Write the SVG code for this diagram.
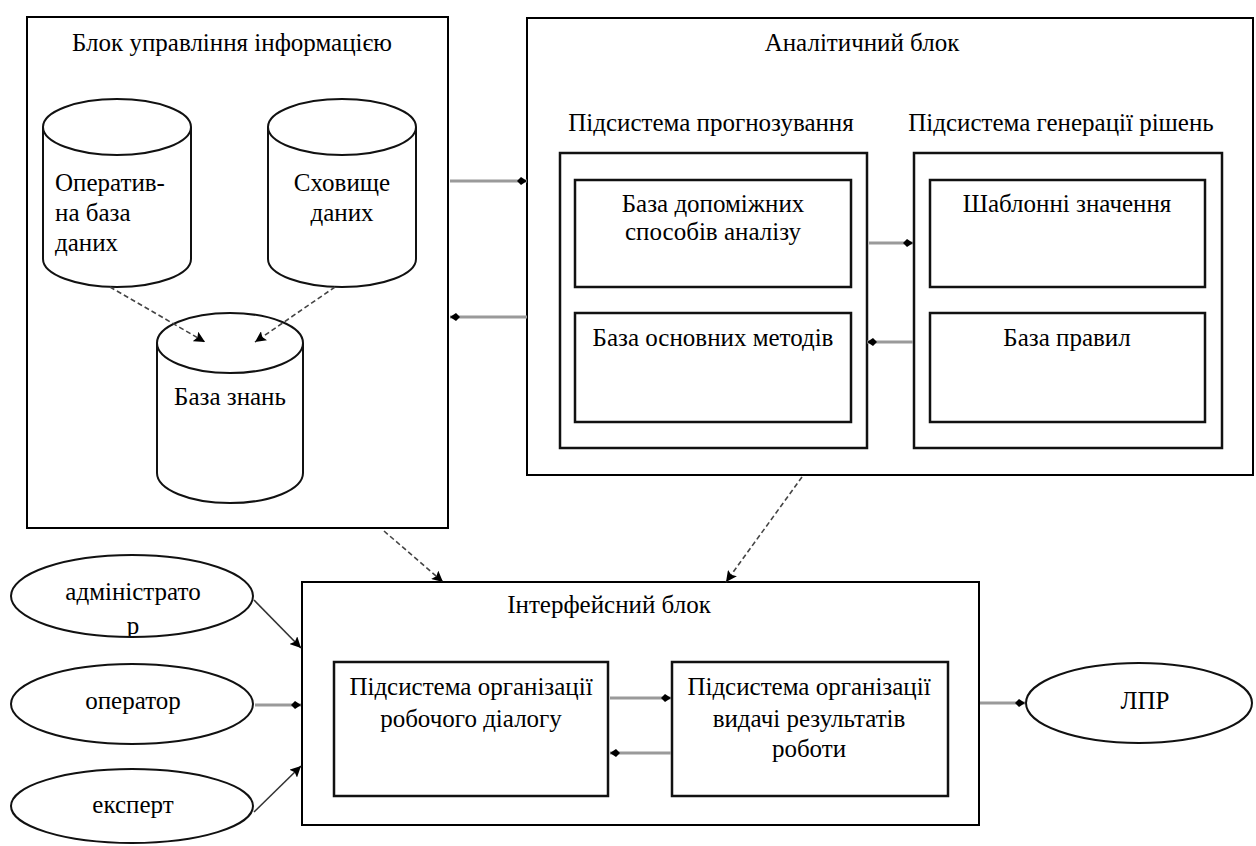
<svg xmlns="http://www.w3.org/2000/svg" width="1256" height="846" viewBox="0 0 1256 846" font-family="Liberation Serif, serif" font-size="25">
<defs>
<marker id="kite" viewBox="0 0 10 10" refX="10" refY="5" markerWidth="10" markerHeight="10" markerUnits="userSpaceOnUse" orient="auto">
<path d="M0,5 L4,1 L10,5 L4,9 z" fill="#000"/>
</marker>
<marker id="tri" viewBox="0 0 10 10" refX="10" refY="5" markerWidth="11" markerHeight="11" markerUnits="userSpaceOnUse" orient="auto">
<path d="M0,0 L10,5 L0,10 L2,5 z" fill="#000"/>
</marker>
<clipPath id="admClip"><ellipse cx="132" cy="596" rx="120" ry="40"/></clipPath>
</defs>

<g id="nodes" font-family="Liberation Serif, serif" font-size="25">
<g id="info-block">
<rect x="27" y="17" width="421" height="511" fill="#fff" stroke="#000" stroke-width="2"/>
<text x="232" y="51" text-anchor="middle">Блок управління інформацією</text>
</g>

<g id="operative-db">
<path d="M43,127 L43,259 A74,28 0 0 0 191,259 L191,127" fill="#fff" stroke="#111" stroke-width="2"/>
<ellipse cx="117" cy="127" rx="74" ry="28" fill="#fff" stroke="#111" stroke-width="2"/>
<text x="55" y="191">Оператив-</text>
<text x="55" y="221">на база</text>
<text x="55" y="251">даних</text>
</g>

<g id="data-warehouse">
<path d="M268,127 L268,259 A74,28 0 0 0 416,259 L416,127" fill="#fff" stroke="#111" stroke-width="2"/>
<ellipse cx="342" cy="127" rx="74" ry="28" fill="#fff" stroke="#111" stroke-width="2"/>
<text x="342" y="191" text-anchor="middle">Сховище</text>
<text x="342" y="221" text-anchor="middle">даних</text>
</g>

<g id="knowledge-base">
<path d="M157,343 L157,473 A73,30 0 0 0 303,473 L303,343" fill="#fff" stroke="#111" stroke-width="2"/>
<ellipse cx="230" cy="343" rx="73" ry="30" fill="#fff" stroke="#111" stroke-width="2"/>
<text x="230" y="405" text-anchor="middle">База знань</text>
</g>

<g id="analytic-block">
<rect x="527" y="18" width="726" height="457" fill="#fff" stroke="#000" stroke-width="2"/>
<text x="862" y="51" text-anchor="middle">Аналітичний блок</text>
</g>

<g id="forecast-subsystem">
<text x="711" y="131" text-anchor="middle">Підсистема прогнозування</text>
<rect x="560" y="153" width="307" height="295" fill="#fff" stroke="#111" stroke-width="2.5"/>
</g>
<g id="aux-methods-base">
<rect x="575" y="180" width="276" height="107" fill="#fff" stroke="#111" stroke-width="2.5"/>
<text x="713" y="212" text-anchor="middle">База допоміжних</text>
<text x="713" y="240" text-anchor="middle">способів аналізу</text>
</g>
<g id="main-methods-base">
<rect x="575" y="313" width="276" height="109" fill="#fff" stroke="#111" stroke-width="2.5"/>
<text x="713" y="346" text-anchor="middle">База основних методів</text>
</g>

<g id="decision-subsystem">
<text x="1061" y="131" text-anchor="middle">Підсистема генерації рішень</text>
<rect x="914" y="153" width="308" height="295" fill="#fff" stroke="#111" stroke-width="2.5"/>
</g>
<g id="template-values">
<rect x="930" y="180" width="275" height="107" fill="#fff" stroke="#111" stroke-width="2.5"/>
<text x="1067" y="212" text-anchor="middle">Шаблонні значення</text>
</g>
<g id="rules-base">
<rect x="930" y="313" width="275" height="109" fill="#fff" stroke="#111" stroke-width="2.5"/>
<text x="1067" y="346" text-anchor="middle">База правил</text>
</g>

<g id="interface-block">
<rect x="302" y="582" width="677" height="243" fill="#fff" stroke="#000" stroke-width="2"/>
<text x="609" y="613" text-anchor="middle">Інтерфейсний блок</text>
</g>
<g id="dialog-subsystem">
<rect x="334" y="662" width="274" height="134" fill="#fff" stroke="#111" stroke-width="2.5"/>
<text x="471" y="695" text-anchor="middle">Підсистема організації</text>
<text x="471" y="727" text-anchor="middle">робочого діалогу</text>
</g>
<g id="results-subsystem">
<rect x="672" y="662" width="276" height="134" fill="#fff" stroke="#111" stroke-width="2.5"/>
<text x="809" y="695" text-anchor="middle">Підсистема організації</text>
<text x="809" y="727" text-anchor="middle">видачі результатів</text>
<text x="809" y="757" text-anchor="middle">роботи</text>
</g>

<g id="admin">
<ellipse cx="132" cy="596" rx="121" ry="41" fill="#fff" stroke="#111" stroke-width="2"/>
<text x="133" y="600" text-anchor="middle">адміністрато</text>
<text x="133" y="634" text-anchor="middle" clip-path="url(#admClip)">р</text>
</g>
<g id="operator">
<ellipse cx="132" cy="704" rx="121" ry="40" fill="#fff" stroke="#111" stroke-width="2"/>
<text x="133" y="709" text-anchor="middle">оператор</text>
</g>
<g id="expert">
<ellipse cx="132" cy="806" rx="121" ry="37" fill="#fff" stroke="#111" stroke-width="2"/>
<text x="133" y="813" text-anchor="middle">експерт</text>
</g>
<g id="lpr">
<ellipse cx="1139" cy="703" rx="113" ry="40" fill="#fff" stroke="#111" stroke-width="2"/>
<text x="1145" y="709" text-anchor="middle">ЛПР</text>
</g>
</g>

<g id="connectors" fill="none">
<g stroke="#444" stroke-width="1.6" stroke-dasharray="5 3" marker-end="url(#tri)">
<line x1="110" y1="287" x2="205" y2="342"/>
<line x1="335" y1="287" x2="255" y2="342"/>
<line x1="384" y1="531" x2="443" y2="582"/>
<line x1="802" y1="477" x2="726" y2="582"/>
</g>
<g stroke="#9a9a9a" stroke-width="3" marker-end="url(#kite)">
<line x1="450" y1="181" x2="527" y2="181"/>
<line x1="527" y1="317" x2="450" y2="317"/>
<line x1="869" y1="243" x2="913" y2="243"/>
<line x1="913" y1="342" x2="867" y2="342"/>
<line x1="255" y1="705" x2="301" y2="705"/>
<line x1="610" y1="698" x2="671" y2="698"/>
<line x1="671" y1="753" x2="610" y2="753"/>
<line x1="980" y1="703" x2="1025" y2="703"/>
</g>
<g stroke="#333" stroke-width="1.6" marker-end="url(#tri)">
<line x1="254" y1="600" x2="301" y2="648"/>
<line x1="254" y1="812" x2="301" y2="766"/>
</g>
</g>
</svg>
